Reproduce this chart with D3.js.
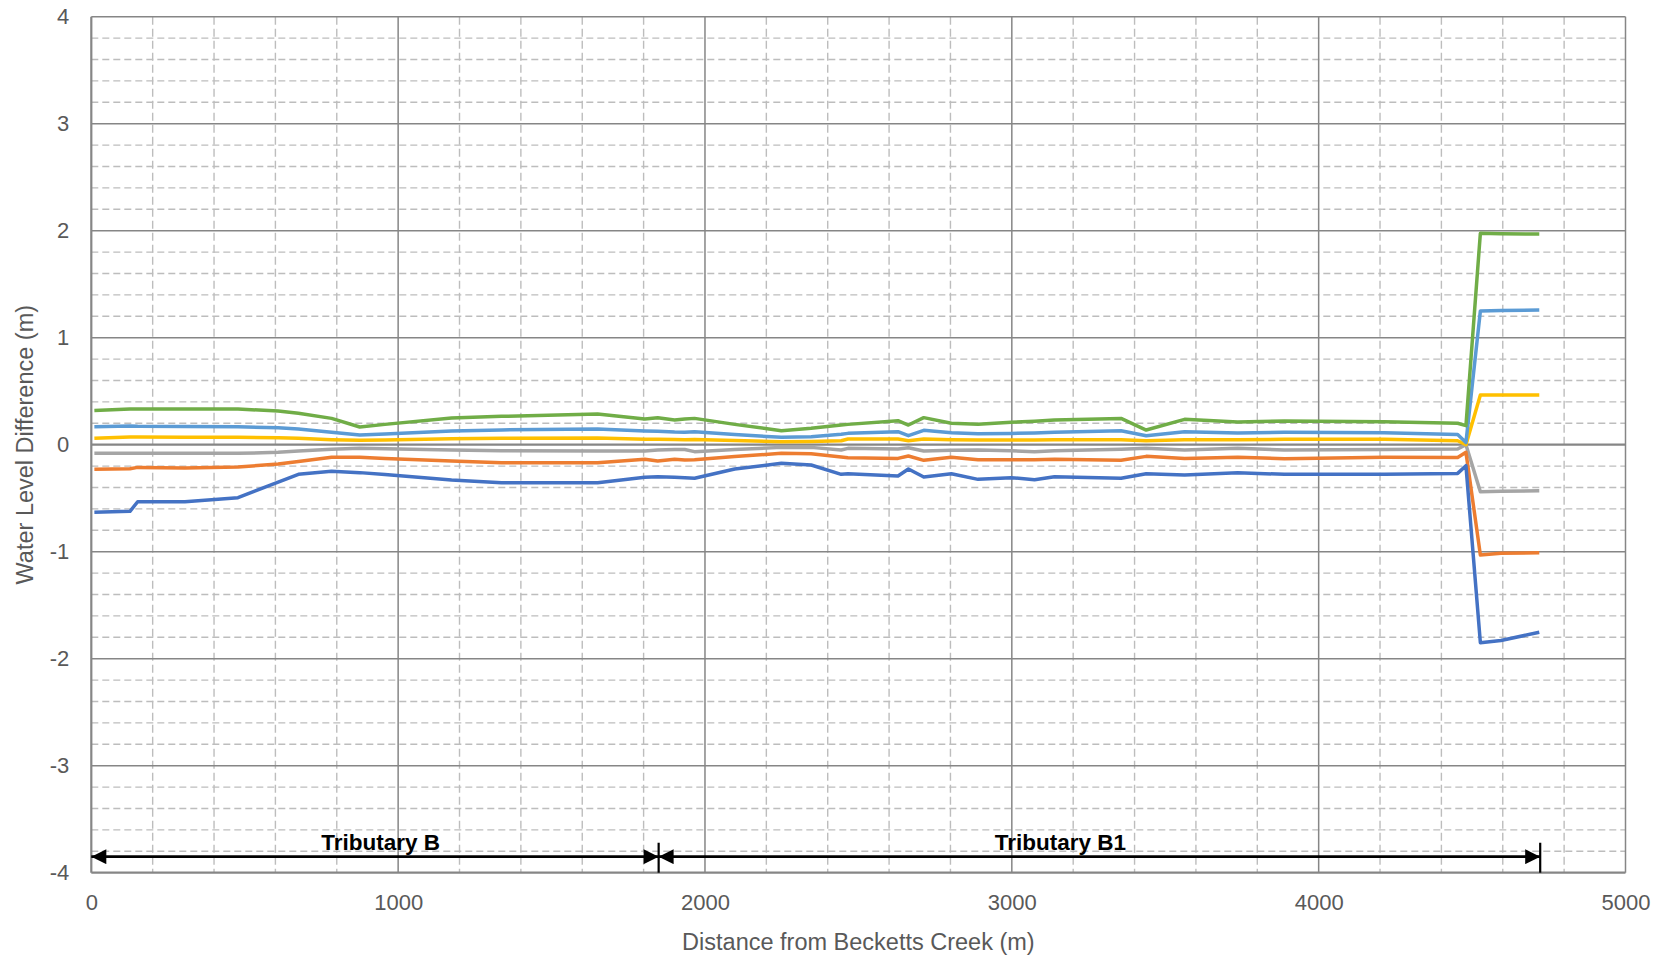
<!DOCTYPE html>
<html>
<head>
<meta charset="utf-8">
<script src="https://cdn.jsdelivr.net/npm/d3@7"></script>
<style>
  html, body { margin: 0; padding: 0; background: #ffffff; }
  svg { display: block; }
</style>
</head>
<body>
<svg id="chart" width="1663" height="959"></svg>
<script>
// ---------------- data ----------------
const distance = [10, 126, 151, 305, 478, 609, 675, 783, 875, 957, 1174, 1337, 1650, 1804, 1846, 1901, 1934, 1966, 2097, 2249, 2346, 2444, 2466, 2629, 2663, 2713, 2803, 2890, 2998, 3074, 3139, 3356, 3438, 3563, 3736, 3888, 4214, 4453, 4480, 4527, 4594, 4719];

const seriesGreen = [0.32, 0.333, 0.333, 0.333, 0.333, 0.315, 0.293, 0.246, 0.165, 0.19, 0.25, 0.265, 0.287, 0.24, 0.252, 0.23, 0.24, 0.246, 0.19, 0.131, 0.153, 0.185, 0.19, 0.224, 0.184, 0.253, 0.2, 0.19, 0.209, 0.22, 0.231, 0.246, 0.137, 0.237, 0.212, 0.222, 0.215, 0.2, 0.178, 1.976, 1.972, 1.969];
const seriesLightBlue = [0.168, 0.175, 0.172, 0.17, 0.168, 0.158, 0.147, 0.116, 0.09, 0.1, 0.128, 0.138, 0.147, 0.128, 0.125, 0.118, 0.116, 0.12, 0.095, 0.069, 0.075, 0.097, 0.106, 0.122, 0.084, 0.134, 0.112, 0.103, 0.105, 0.11, 0.116, 0.131, 0.084, 0.122, 0.11, 0.116, 0.112, 0.095, 0.02, 1.25, 1.255, 1.259];
const seriesYellow = [0.06, 0.072, 0.072, 0.07, 0.069, 0.064, 0.06, 0.047, 0.041, 0.044, 0.056, 0.06, 0.062, 0.05, 0.05, 0.048, 0.047, 0.048, 0.04, 0.028, 0.03, 0.037, 0.053, 0.053, 0.037, 0.053, 0.047, 0.044, 0.044, 0.045, 0.047, 0.047, 0.037, 0.047, 0.047, 0.05, 0.05, 0.037, 0.0, 0.464, 0.464, 0.464];
const seriesGray = [-0.081, -0.081, -0.081, -0.081, -0.081, -0.071, -0.06, -0.043, -0.034, -0.037, -0.05, -0.056, -0.059, -0.059, -0.05, -0.045, -0.045, -0.065, -0.045, -0.025, -0.025, -0.05, -0.034, -0.04, -0.028, -0.059, -0.053, -0.05, -0.056, -0.065, -0.056, -0.043, -0.034, -0.05, -0.034, -0.05, -0.045, -0.04, 0.0, -0.44, -0.435, -0.43];
const seriesOrange = [-0.23, -0.225, -0.212, -0.218, -0.209, -0.18, -0.156, -0.118, -0.118, -0.128, -0.153, -0.168, -0.168, -0.137, -0.153, -0.137, -0.143, -0.14, -0.11, -0.081, -0.084, -0.115, -0.121, -0.128, -0.106, -0.146, -0.118, -0.14, -0.14, -0.14, -0.137, -0.146, -0.109, -0.128, -0.118, -0.131, -0.118, -0.12, -0.071, -1.03, -1.015, -1.009];
const seriesBlue = [-0.632, -0.623, -0.533, -0.533, -0.495, -0.35, -0.277, -0.249, -0.261, -0.278, -0.33, -0.355, -0.355, -0.305, -0.3, -0.305, -0.308, -0.314, -0.227, -0.174, -0.19, -0.277, -0.271, -0.293, -0.227, -0.302, -0.271, -0.324, -0.308, -0.327, -0.299, -0.314, -0.271, -0.283, -0.261, -0.277, -0.277, -0.268, -0.196, -1.85, -1.83, -1.753];

const seriesList = [seriesGray, seriesOrange, seriesYellow, seriesLightBlue, seriesGreen, seriesBlue];
const seriesColors = ["#A5A5A5", "#ED7D31", "#FFC000", "#5B9BD5", "#70AD47", "#4472C4"];

const xTicks = [0, 1000, 2000, 3000, 4000, 5000];
const yTicks = [-4, -3, -2, -1, 0, 1, 2, 3, 4];

const reachNames = ["Tributary B", "Tributary B1"];
const reachStart = [0, 1849];
const reachEnd = [1849, 4722];
const reachLabelAt = [943, 3158];
const reachArrowLevel = -3.85;
const reachLabelLevel = -3.79;
const reachBarTop = -3.72;

const xTitle = "Distance from Becketts Creek (m)";
const yTitle = "Water Level Difference (m)";

// ---------------- layout ----------------
const W = 1663, H = 959;
const margin = { left: 91.3, right: 37.5, top: 16.7, bottom: 86.3 };
const svg = d3.select("#chart");

const x = d3.scaleLinear().domain([0, 5000]).range([margin.left, W - margin.right]);
const y = d3.scaleLinear().domain([-4, 4]).range([H - margin.bottom, margin.top]);

const font = "'Liberation Sans', Arial, sans-serif";
const grid = svg.append("g");

// minor gridlines
const minorX = d3.range(200, 5000, 200).filter(v => v % 1000 !== 0);
const minorY = d3.range(-40, 41, 2).map(v => v / 10).filter(v => Math.abs(v - Math.round(v)) > 1e-6);

grid.selectAll("line.mx").data(minorX).enter().append("line")
  .attr("x1", d => x(d)).attr("x2", d => x(d))
  .attr("y1", y(4)).attr("y2", y(-4))
  .attr("stroke", "#BDBDBD").attr("stroke-width", 1.4).attr("stroke-dasharray", "8,4");
grid.selectAll("line.my").data(minorY).enter().append("line")
  .attr("x1", x(0)).attr("x2", x(5000))
  .attr("y1", d => y(d)).attr("y2", d => y(d))
  .attr("stroke", "#BDBDBD").attr("stroke-width", 1.4).attr("stroke-dasharray", "7,4");

// major gridlines
grid.selectAll("line.MX").data(xTicks).enter().append("line")
  .attr("x1", d => x(d)).attr("x2", d => x(d))
  .attr("y1", y(4)).attr("y2", y(-4))
  .attr("stroke", "#868686").attr("stroke-width", d => d === 0 ? 2.2 : 1.5);
grid.selectAll("line.MY").data(yTicks).enter().append("line")
  .attr("x1", x(0)).attr("x2", x(5000))
  .attr("y1", d => y(d)).attr("y2", d => y(d))
  .attr("stroke", "#868686").attr("stroke-width", d => (d === 0 || d === -4) ? 2.2 : 1.5);

// axes (labels only)
const fmt = d => String(d);
const xAxis = d3.axisBottom(x).tickValues(xTicks).tickSize(0).tickPadding(0).tickFormat(fmt);
const gx = svg.append("g").attr("transform", `translate(0,${y(-4)})`).call(xAxis);
gx.select(".domain").remove();
gx.selectAll("text").attr("font-family", font).attr("font-size", 22).attr("fill", "#595959").attr("dy", "1.7em");

const yAxis = d3.axisLeft(y).tickValues(yTicks).tickSize(0).tickPadding(0).tickFormat(fmt);
const gy = svg.append("g").attr("transform", `translate(${margin.left - 22},0)`).call(yAxis);
gy.select(".domain").remove();
gy.selectAll("text").attr("font-family", font).attr("font-size", 22).attr("fill", "#595959");

// axis titles
svg.append("text").attr("x", (x(0) + x(5000)) / 2).attr("y", 950)
  .attr("text-anchor", "middle").attr("font-family", font).attr("font-size", 23.5).attr("fill", "#595959")
  .text(xTitle);
svg.append("text").attr("transform", `translate(33,${(y(4) + y(-4)) / 2}) rotate(-90)`)
  .attr("text-anchor", "middle").attr("font-family", font).attr("font-size", 23.5).attr("fill", "#595959")
  .text(yTitle);

// series lines
const line = d3.line().x((d, i) => x(distance[i])).y(d => y(d));
svg.append("g").selectAll("path").data(seriesList).enter().append("path")
  .attr("d", d => line(d))
  .attr("fill", "none")
  .attr("stroke", (d, i) => seriesColors[i])
  .attr("stroke-width", 3.5)
  .attr("stroke-linejoin", "round");

// reach annotations
const defs = svg.append("defs");
defs.append("marker").attr("id", "ah").attr("viewBox", "0 0 10 10")
  .attr("refX", 10).attr("refY", 5).attr("markerWidth", 16).attr("markerHeight", 15)
  .attr("markerUnits", "userSpaceOnUse").attr("orient", "auto-start-reverse")
  .append("path").attr("d", "M0,0 L10,5 L0,10 Z").attr("fill", "#000");

const ann = svg.append("g");
reachNames.forEach((name, i) => {
  ann.append("line")
    .attr("x1", x(reachStart[i])).attr("x2", x(reachEnd[i]))
    .attr("y1", y(reachArrowLevel)).attr("y2", y(reachArrowLevel))
    .attr("stroke", "#000").attr("stroke-width", 2.8)
    .attr("marker-start", "url(#ah)").attr("marker-end", "url(#ah)");
  ann.append("text").attr("x", x(reachLabelAt[i])).attr("y", y(reachLabelLevel))
    .attr("text-anchor", "middle").attr("font-family", font).attr("font-weight", "bold")
    .attr("font-size", 22.5).attr("fill", "#000").text(name);
});
[reachEnd[0], reachEnd[1]].forEach(v => {
  ann.append("line").attr("x1", x(v)).attr("x2", x(v))
    .attr("y1", y(reachBarTop)).attr("y2", y(-4))
    .attr("stroke", "#000").attr("stroke-width", 2.2);
});
</script>
</body>
</html>
